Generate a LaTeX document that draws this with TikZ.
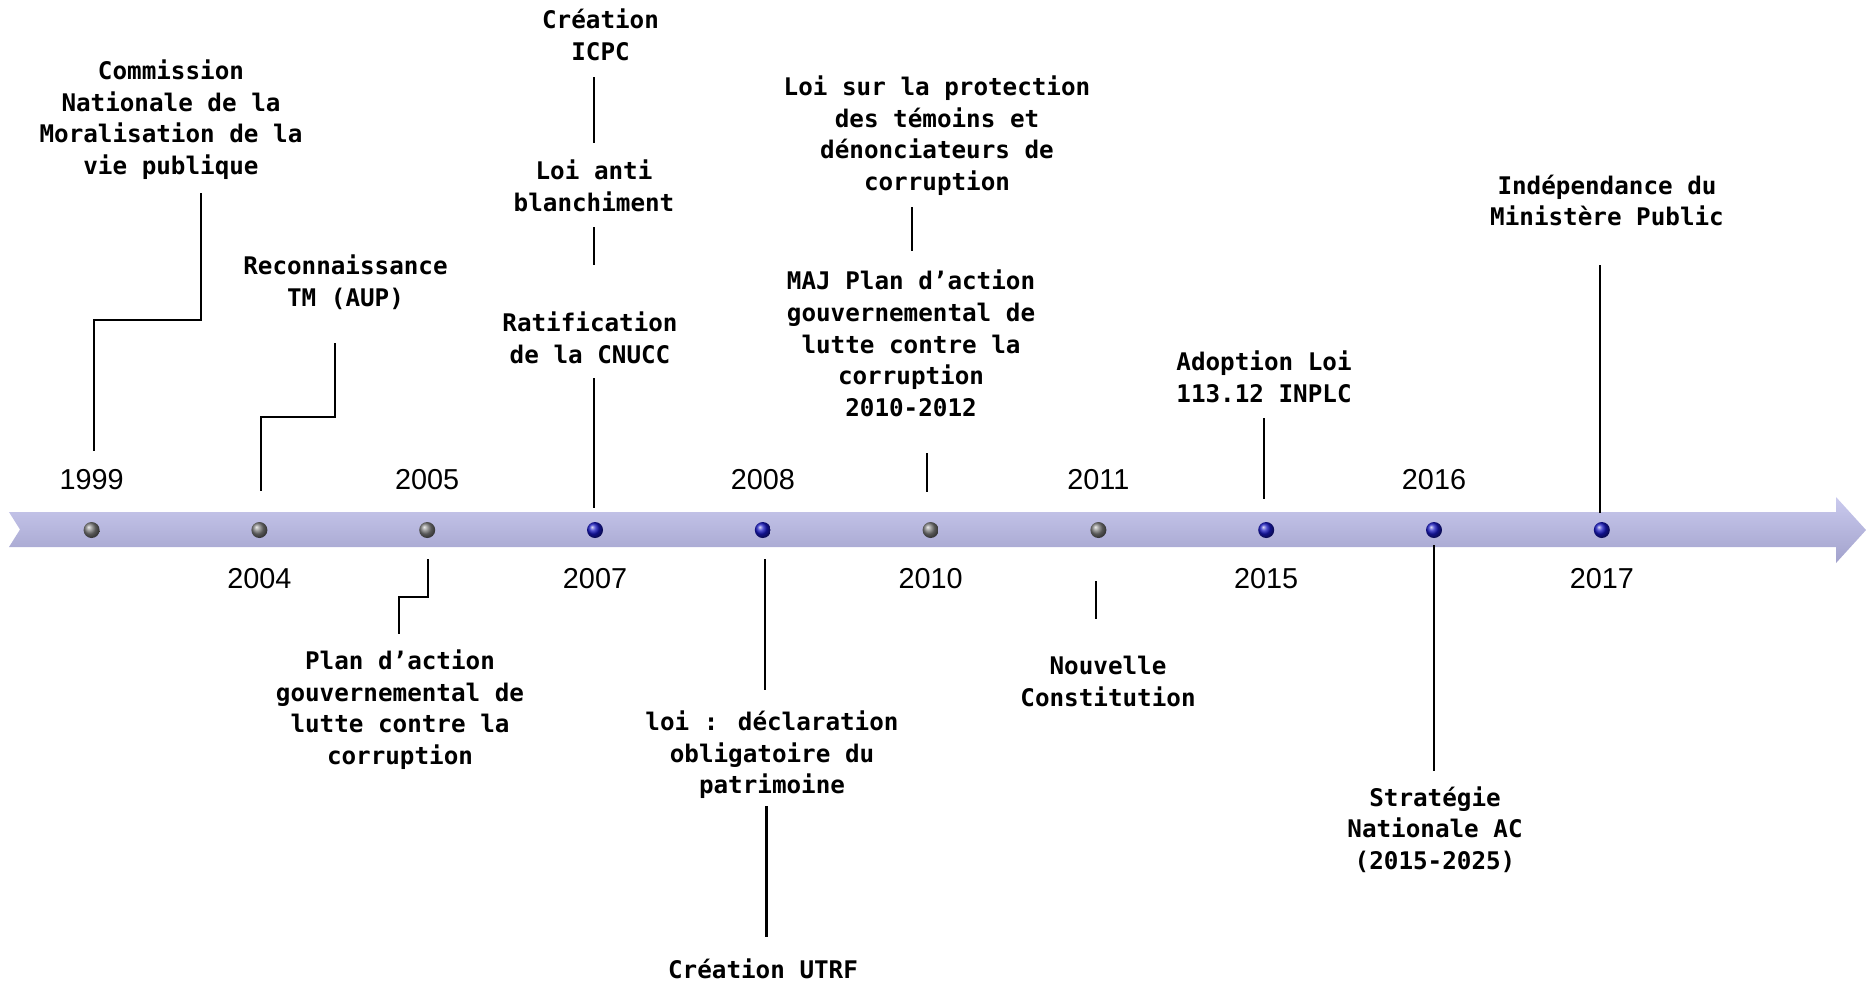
\documentclass[tikz,border=0pt]{standalone}
\usepackage{fontspec}
\setmainfont{Liberation Sans}
\newfontfamily\evfont{DejaVu Sans Mono}
\usepackage{xcolor}
\usetikzlibrary{positioning}
\definecolor{bandTop}{RGB}{202,202,238}
\definecolor{bandBot}{RGB}{162,162,204}
\definecolor{ballGrey}{RGB}{125,125,125}
\definecolor{ballBlue}{RGB}{25,25,195}
\tikzset{
    evText/.style={align=center, inner sep=0pt, font=\evfont\bfseries\fontsize{6.9}{9}\selectfont},
    yearText/.style={inner sep=0pt, font=\fontsize{8.2}{9}\selectfont},
    conn/.style={line width=0.6pt, black},
    greyDot/.style={circle, inner sep=0pt, minimum size=1.6mm, shading=ball, ball color=ballGrey},
    blueDot/.style={circle, inner sep=0pt, minimum size=1.6mm, shading=ball, ball color=ballBlue}
}

\begin{document}
\begin{tikzpicture}
    \useasboundingbox (0,0) rectangle (18.66,-9.83);
    % --- band ---
    \shade[top color=bandTop, bottom color=bandBot] (0.09,-5.12) -- (18.36,-5.12) -- (18.36,-4.97) -- (18.66,-5.30)
        -- (18.36,-5.63) -- (18.36,-5.47) -- (0.09,-5.47) -- (0.20,-5.295) -- cycle;
    % --- dots ---
    \node[greyDot] (d1999) at (0.916,-5.30) {};
    \node[greyDot] (d2004) at (2.594,-5.30) {};
    \node[greyDot] (d2005) at (4.272,-5.30) {};
    \node[blueDot] (d2007) at (5.950,-5.30) {};
    \node[blueDot] (d2008) at (7.628,-5.30) {};
    \node[greyDot] (d2010) at (9.306,-5.30) {};
    \node[greyDot] (d2011) at (10.984,-5.30) {};
    \node[blueDot] (d2015) at (12.662,-5.30) {};
    \node[blueDot] (d2016) at (14.340,-5.30) {};
    \node[blueDot] (d2017) at (16.018,-5.30) {};
    % --- years ---
    \node[yearText, above=0.31cm of d1999] (y1999) {1999};
    \node[yearText, below=0.29cm of d2004] (y2004) {2004};
    \node[yearText, above=0.31cm of d2005] (y2005) {2005};
    \node[yearText, below=0.29cm of d2007] (y2007) {2007};
    \node[yearText, above=0.31cm of d2008] (y2008) {2008};
    \node[yearText, below=0.29cm of d2010] (y2010) {2010};
    \node[yearText, above=0.31cm of d2011] (y2011) {2011};
    \node[yearText, below=0.29cm of d2015] (y2015) {2015};
    \node[yearText, above=0.31cm of d2016] (y2016) {2016};
    \node[yearText, below=0.29cm of d2017] (y2017) {2017};
    % --- events above ---
    \node[evText] (cnml) at (1.71,-1.195) {Commission\\Nationale de la\\Moralisation de la\\vie publique};
    \node[evText] (aup) at (3.455,-2.825) {Reconnaissance\\TM (AUP)};
    \node[evText] (icpc) at (6.005,-0.345) {Création\\ICPC};
    \node[evText] (blanch) at (5.94,-1.86) {Loi anti\\blanchiment};
    \node[evText] (cnucc) at (5.90,-3.375) {Ratification\\de la CNUCC};
    \node[evText] (temoins) at (9.37,-1.355) {Loi sur la protection\\des témoins et\\dénonciateurs de\\corruption};
    \node[evText] (maj) at (9.11,-3.435) {MAJ Plan d’action\\gouvernemental de\\lutte contre la\\corruption\\2010-2012};
    \node[evText] (inplc) at (12.64,-3.77) {Adoption Loi\\113.12 INPLC};
    \node[evText] (indep) at (16.07,-2.005) {Indépendance du\\Ministère Public};
    % --- events below ---
    \node[evText] (plan) at (4.00,-7.095) {Plan d’action\\gouvernemental de\\lutte contre la\\corruption};
    \node[evText] (patri) at (7.72,-7.55) {loi : déclaration\\obligatoire du\\patrimoine};
    \node[evText] (utrf) at (7.63,-9.69) {Création UTRF};
    \node[evText] (constit) at (11.08,-6.815) {Nouvelle\\Constitution};
    \node[evText] (snac) at (14.35,-8.295) {Stratégie\\Nationale AC\\(2015-2025)};
    % --- connector ends ---
    \coordinate (cnmlA) at (2.01,-1.93);   \coordinate (cnmlB) at (0.94,-4.51);
    \coordinate (aupA) at (3.35,-3.43);    \coordinate (aupB) at (2.61,-4.91);
    \coordinate (planA) at (4.277,-5.59);  \coordinate (planB) at (3.986,-6.34);
    \coordinate (icpcA) at (5.94,-0.77);   \coordinate (icpcB) at (5.94,-1.43);
    \coordinate (blanchA) at (5.94,-2.27); \coordinate (blanchB) at (5.94,-2.65);
    \coordinate (cnuccA) at (5.94,-3.78);  \coordinate (cnuccB) at (5.94,-5.08);
    \coordinate (patriA) at (7.65,-5.59);  \coordinate (patriB) at (7.65,-6.90);
    \coordinate (utrfA) at (7.665,-8.06);  \coordinate (utrfB) at (7.665,-9.37);
    \coordinate (temA) at (9.12,-2.07);    \coordinate (temB) at (9.12,-2.51);
    \coordinate (majA) at (9.27,-4.53);    \coordinate (majB) at (9.27,-4.92);
    \coordinate (constA) at (10.96,-5.81); \coordinate (constB) at (10.96,-6.19);
    \coordinate (inplcA) at (12.64,-4.18); \coordinate (inplcB) at (12.64,-4.99);
    \coordinate (snacA) at (14.34,-5.45);  \coordinate (snacB) at (14.34,-7.71);
    \coordinate (indepA) at (16.00,-2.65); \coordinate (indepB) at (16.00,-5.13);
    % --- connectors ---
    \draw[conn] (cnmlA) -- ++(0,-1.27) -| (cnmlB);
    \draw[conn] (aupA) -- ++(0,-0.74) -| (aupB);
    \draw[conn] (planA) -- ++(0,-0.38) -| (planB);
    \draw[conn] (icpcA) -- (icpcB);
    \draw[conn] (blanchA) -- (blanchB);
    \draw[conn] (cnuccA) -- (cnuccB);
    \draw[conn] (patriA) -- (patriB);
    \draw[conn] (utrfA) -- (utrfB);
    \draw[conn] (temA) -- (temB);
    \draw[conn] (majA) -- (majB);
    \draw[conn] (constA) -- (constB);
    \draw[conn] (inplcA) -- (inplcB);
    \draw[conn] (snacA) -- (snacB);
    \draw[conn] (indepA) -- (indepB);
\end{tikzpicture}
\end{document}
